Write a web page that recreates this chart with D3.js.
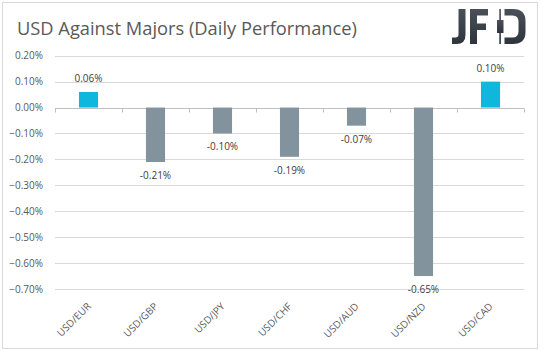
<!DOCTYPE html>
<html>
<head>
<meta charset="utf-8">
<script src="https://cdn.jsdelivr.net/npm/d3@7"></script>
<style>
  html, body { margin: 0; padding: 0; background: #fff; }
  svg { display: block; }
</style>
</head>
<body>
<svg id="chart" width="543" height="351"></svg>
<script>
const categories = ["USD/EUR", "USD/GBP", "USD/JPY", "USD/CHF", "USD/AUD", "USD/NZD", "USD/CAD"];
const values = [0.06, -0.21, -0.10, -0.19, -0.07, -0.65, 0.10];
const valueLabels = ["0.06%", "-0.21%", "-0.10%", "-0.19%", "-0.07%", "-0.65%", "0.10%"];
const yTicks = [0.2, 0.1, 0.0, -0.1, -0.2, -0.3, -0.4, -0.5, -0.6, -0.7];
const title = "USD Against Majors (Daily Performance)";

const svg = d3.select("#chart");
const font = "'Open Sans', sans-serif";

// outer border
svg.append("rect").attr("x", 2.5).attr("y", 2.5).attr("width", 535).attr("height", 346)
  .attr("fill", "#fff").attr("stroke", "#d9d9d9").attr("stroke-width", 1);

// title
svg.append("text").attr("x", 17).attr("y", 35)
  .attr("font-family", font).attr("font-size", 18.3).attr("fill", "#595959")
  .text(title);

const left = 55, right = 524;
const x = d3.scaleBand().domain(categories).range([left, right]).paddingInner(0.715).paddingOuter(0.3575);
const y = d3.scaleLinear().domain([-0.7, 0.2]).range([289, 55.7]);

// gridlines
svg.append("g").selectAll("line").data(yTicks).join("line")
  .attr("x1", left).attr("x2", right)
  .attr("y1", d => Math.round(y(d)) + 0.5).attr("y2", d => Math.round(y(d)) + 0.5)
  .attr("stroke", d => d === 0 ? "#bfbfbf" : "#d9d9d9").attr("stroke-width", 1);

// y tick labels
const yAxis = d3.axisLeft(y).tickValues(yTicks).tickSize(0).tickPadding(0)
  .tickFormat(d => d3.format(".2f")(d) + "%");
const ya = svg.append("g").attr("transform", `translate(43,0)`).call(yAxis);
ya.select(".domain").remove();
ya.selectAll("text").attr("font-family", font).attr("font-size", 10).attr("fill", "#595959");

// category boundary ticks
const bounds = d3.range(categories.length + 1).map(i => left + i * (right - left) / categories.length);
svg.append("g").selectAll("line").data(bounds).join("line")
  .attr("x1", d => Math.round(d) + 0.5).attr("x2", d => Math.round(d) + 0.5)
  .attr("y1", Math.round(y(0)) + 0.5).attr("y2", Math.round(y(0)) + 4.5)
  .attr("stroke", "#bfbfbf");

// bars
svg.append("g").selectAll("rect").data(categories).join("rect")
  .attr("x", d => x(d))
  .attr("width", x.bandwidth())
  .attr("y", (d, i) => y(Math.max(0, values[i])))
  .attr("height", (d, i) => Math.abs(y(values[i]) - y(0)))
  .attr("fill", (d, i) => values[i] >= 0 ? "#10b7dc" : "#82939d");

// value labels
svg.append("g").selectAll("text").data(categories).join("text")
  .attr("x", d => x(d) + x.bandwidth() / 2)
  .attr("y", (d, i) => values[i] >= 0 ? y(values[i]) - 10 : y(values[i]) + 17)
  .attr("text-anchor", "middle")
  .attr("font-family", font).attr("font-size", 10).attr("fill", "#404040")
  .text((d, i) => valueLabels[i]);

// x labels
svg.append("g").selectAll("text").data(categories).join("text")
  .attr("transform", d => `translate(${x(d) + x.bandwidth() / 2 + 3},${307}) rotate(-45)`)
  .attr("text-anchor", "end")
  .attr("font-family", font).attr("font-size", 10).attr("fill", "#595959")
  .text(d => d);

// JFD logo
const defs = svg.append("defs");
const grad = defs.append("linearGradient").attr("id", "lg").attr("x1", 0).attr("y1", 0).attr("x2", 0).attr("y2", 1);
grad.append("stop").attr("offset", "0%").attr("stop-color", "#4a5058");
grad.append("stop").attr("offset", "100%").attr("stop-color", "#2f353d");
const logo = svg.append("g").attr("fill", "url(#lg)");
// J
logo.append("path").attr("d",
  "M458.5,9 L465.5,9 L465.5,35 Q465.5,44 456.5,44 L452,44 L452,37.5 L455.5,37.5 Q458.5,37.5 458.5,34.5 Z");
// F
logo.append("path").attr("d",
  "M470,9 L488,9 L488,15.5 L477,15.5 L477,23.5 L486,23.5 L486,30 L477,30 L477,44 L470,44 Z");
// candle
logo.append("rect").attr("x", 499.3).attr("y", 9).attr("width", 1.6).attr("height", 35);
logo.append("rect").attr("x", 497).attr("y", 20).attr("width", 6.5).attr("height", 13);
// D
logo.append("path").attr("d",
  "M504.5,9 L513,9 Q525.5,9 525.5,21 L525.5,32 Q525.5,44 513,44 L504.5,44 L504.5,37.5 L512.5,37.5 Q518.5,37.5 518.5,31.5 L518.5,21.5 Q518.5,15.5 512.5,15.5 L504.5,15.5 Z");
</script>
</body>
</html>
